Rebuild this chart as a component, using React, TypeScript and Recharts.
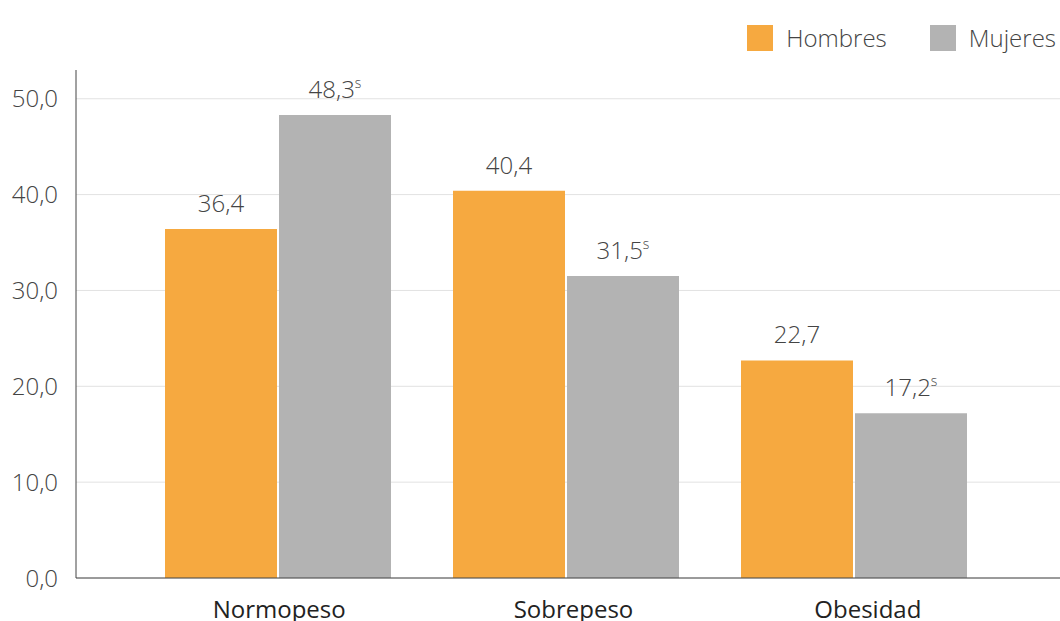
import { BarChart, Bar, XAxis, YAxis, CartesianGrid, LabelList } from "recharts";

const categories = ["Normopeso", "Sobrepeso", "Obesidad"];
const hombres = [36.4, 40.4, 22.7];
const mujeres = [48.3, 31.5, 17.2];
const yTicks = [0, 10, 20, 30, 40, 50];
const seriesNames = ["Hombres", "Mujeres"];

const data = categories.map((name, i) => ({ name, hombres: hombres[i], mujeres: mujeres[i] }));

const ORANGE = "#F6A940";
const GRAY = "#B3B3B3";
const FONT = "'Open Sans', sans-serif";

const fmt = (v: number) => v.toFixed(1).replace(".", ",");

function ValueLabel(props: any) {
  const { x, y, width, value, sup } = props;
  return (
    <text
      x={x + width / 2}
      y={y - 17}
      textAnchor="middle"
      fill="#444"
      fontSize={24}
      fontWeight={300}
      fontFamily={FONT}
    >
      {fmt(value)}
      {sup && (
        <tspan fontSize={14} dy={-10}>
          s
        </tspan>
      )}
    </text>
  );
}

function LegendBox() {
  const colors = [ORANGE, GRAY];
  return (
    <div
      style={{
        position: "absolute",
        top: 25,
        right: 4,
        display: "flex",
        fontFamily: FONT,
      }}
    >
      {seriesNames.map((label, i) => (
        <div key={label} style={{ display: "flex", alignItems: "center", marginLeft: i ? 43 : 0 }}>
          <span style={{ width: 26, height: 26, background: colors[i], display: "inline-block" }} />
          <span style={{ marginLeft: 13, fontSize: 24, fontWeight: 300, color: "#444", lineHeight: "26px" }}>
            {label}
          </span>
        </div>
      ))}
    </div>
  );
}

export default function App() {
  return (
    <div style={{ position: "absolute", left: 0, top: 0, width: 1060, height: 621, background: "#fff" }}>
      <BarChart
        width={1060}
        height={621}
        data={data}
        margin={{ top: 70, right: 0, bottom: 0, left: 0 }}
        barCategoryGap={31}
        barGap={2}
      >
        <CartesianGrid vertical={false} stroke="#E2E2E2" syncWithTicks />
        <XAxis
          dataKey="name"
          height={0}
          padding={{ left: 58, right: 62 }}
          tick={false}
          tickLine={false}
          axisLine={false}
        />
        <XAxis
          xAxisId="labels"
          dataKey="name"
          height={43}
          padding={{ left: 56, right: 45 }}
          axisLine={{ stroke: "#444" }}
          tickLine={false}
          tickSize={0}
          tickMargin={23}
          tick={{ fill: "#222", fontSize: 24, fontFamily: FONT }}
        />
        <YAxis
          width={76}
          domain={[0, 53]}
          ticks={yTicks}
          tickFormatter={fmt}
          tickLine={false}
          tickSize={0}
          tickMargin={18}
          axisLine={{ stroke: "#444" }}
          tick={{ fill: "#444", fontSize: 24, fontWeight: 300, fontFamily: FONT }}
        />
        <Bar dataKey="hombres" fill={ORANGE} isAnimationActive={false}>
          <LabelList dataKey="hombres" content={(p: any) => <ValueLabel {...p} />} />
        </Bar>
        <Bar dataKey="mujeres" fill={GRAY} isAnimationActive={false}>
          <LabelList dataKey="mujeres" content={(p: any) => <ValueLabel {...p} sup />} />
        </Bar>
      </BarChart>
      <LegendBox />
    </div>
  );
}
